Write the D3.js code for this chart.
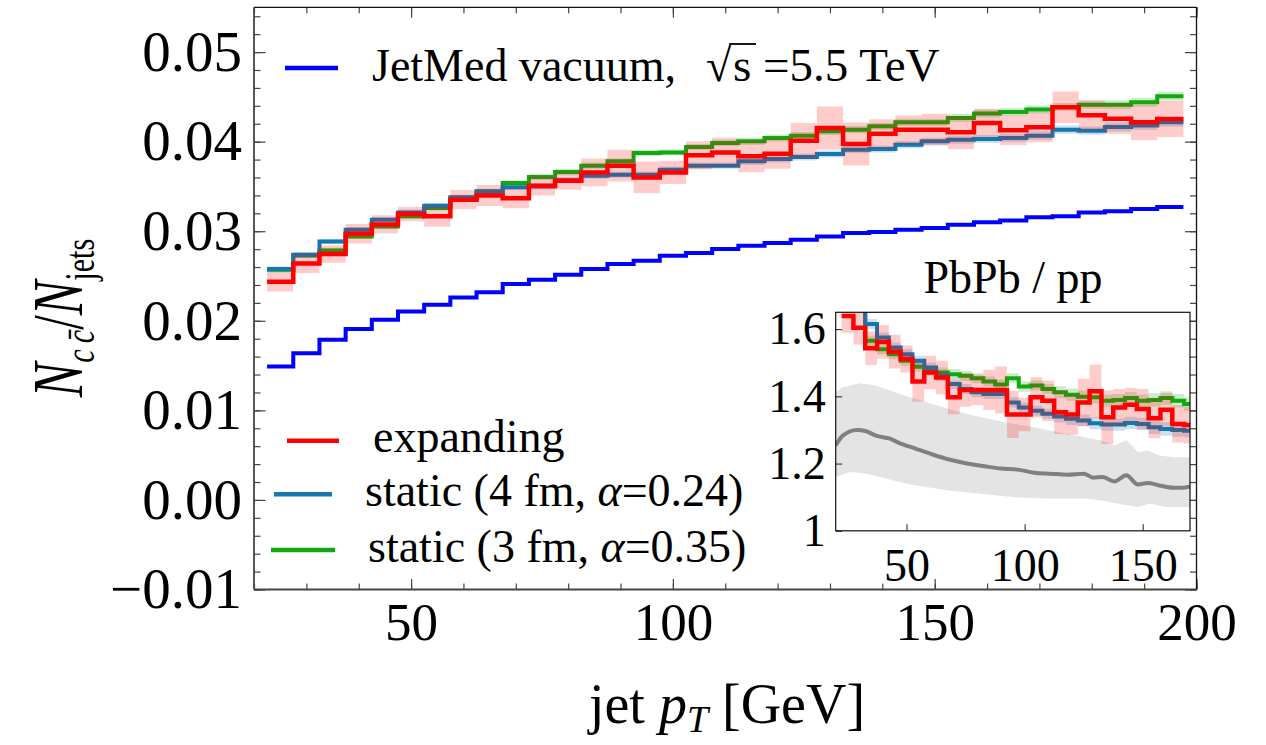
<!DOCTYPE html>
<html>
<head>
<meta charset="utf-8">
<script src="https://cdn.jsdelivr.net/npm/d3@7"></script>
<style>
  body { margin: 0; background: #fff; }
  svg { display: block; }
  text { font-family: 'Liberation Serif', 'Times New Roman', serif; fill: #000; }
</style>
</head>
<body>
<svg width="1266" height="745"></svg>
<script>
// bin centres (GeV), 5 GeV wide bins
var pT = [25, 30, 35, 40, 45, 50, 55, 60, 65, 70, 75, 80, 85, 90, 95, 100, 105, 110,
          115, 120, 125, 130, 135, 140, 145, 150, 155, 160, 165, 170, 175, 180, 185, 190, 195];
var binHalf = 2.5;

var vacuum = [0.0149, 0.01639, 0.01788, 0.01907, 0.02011, 0.02104, 0.02179, 0.0226, 0.0232, 0.0241,
              0.02458, 0.02514, 0.02577, 0.02633, 0.0267, 0.02726, 0.02756, 0.02801, 0.02838, 0.02868,
              0.02905, 0.02942, 0.0298, 0.02991, 0.03017, 0.03035, 0.03073, 0.03099, 0.0312, 0.03155,
              0.03166, 0.0321, 0.03222, 0.03248, 0.0327];

var expanding = [0.02436, 0.0264, 0.02745, 0.02972, 0.03076, 0.03192, 0.03166, 0.03352, 0.0340, 0.03367,
                 0.03508, 0.03564, 0.03657, 0.03732, 0.03601, 0.03657, 0.03847, 0.0388, 0.03836, 0.03866,
                 0.04011, 0.04153, 0.03974, 0.04089, 0.04134, 0.04134, 0.04104, 0.04209, 0.04127, 0.0416,
                 0.04384, 0.04294, 0.04257, 0.04216, 0.04253];
var expandingErr = [0.00108, 0.00106, 0.00097, 0.00108, 0.00102, 0.0008, 0.00117, 0.00108, 0.00117, 0.0011,
                    0.0011, 0.001, 0.00155, 0.00177, 0.00177, 0.0013, 0.00158, 0.00164, 0.00177, 0.00168,
                    0.00196, 0.0024, 0.0024, 0.0016, 0.00158, 0.00177, 0.00186, 0.00158, 0.00168, 0.00168,
                    0.00177, 0.00168, 0.00168, 0.002, 0.002];

var static4 = [0.02577, 0.02737, 0.02886, 0.03017, 0.03128, 0.0321, 0.03285, 0.03378, 0.03441, 0.0349,
               0.0350, 0.0357, 0.0362, 0.03631, 0.03631, 0.03687, 0.03732, 0.03732, 0.0378, 0.03806,
               0.03829, 0.03862, 0.0391, 0.03918, 0.03966, 0.04004, 0.04022, 0.0403, 0.0404, 0.04067,
               0.04134, 0.04123, 0.04164, 0.04179, 0.04216];
var static4Err = [0.0003, 0.0003, 0.0003, 0.0003, 0.0003, 0.0003, 0.0003, 0.0003, 0.0003, 0.0003,
                  0.00035, 0.00035, 0.00035, 0.00035, 0.00035, 0.00035, 0.00035, 0.00035, 0.0004, 0.0004,
                  0.0004, 0.0004, 0.0004, 0.0004, 0.0004, 0.0004, 0.00045, 0.00045, 0.00045, 0.00045,
                  0.00045, 0.00045, 0.0005, 0.0005, 0.0005];

var static3 = [0.0257, 0.0273, 0.02786, 0.02942, 0.03054, 0.03166, 0.0326, 0.0337, 0.03445, 0.03538,
               0.03605, 0.0366, 0.03732, 0.0378, 0.03873, 0.0388, 0.0394, 0.03985, 0.04004, 0.0404,
               0.04067, 0.04115, 0.04134, 0.04171, 0.04216, 0.04216, 0.04264, 0.04313, 0.04331, 0.04358,
               0.04387, 0.04413, 0.04413, 0.04439, 0.04506];
var static3Err = [0.0003, 0.0003, 0.0003, 0.0003, 0.0003, 0.0003, 0.0003, 0.0003, 0.0003, 0.0003,
                  0.00035, 0.00035, 0.00035, 0.00035, 0.00035, 0.00035, 0.00035, 0.00035, 0.0004, 0.0004,
                  0.0004, 0.0004, 0.0004, 0.0004, 0.0004, 0.0004, 0.00045, 0.00045, 0.00045, 0.00045,
                  0.00045, 0.00045, 0.0005, 0.0005, 0.0005];

// inset: PbPb / pp ratio, bins 25..170
var insetPt = [25, 30, 35, 40, 45, 50, 55, 60, 65, 70, 75, 80, 85, 90, 95, 100, 105, 110, 115, 120,
               125, 130, 135, 140, 145, 150, 155, 160, 165, 170];
var ratioExpanding = [1.639, 1.604, 1.543, 1.562, 1.533, 1.511, 1.444, 1.471, 1.456, 1.397,
                      1.419, 1.419, 1.419, 1.419, 1.346, 1.346, 1.397, 1.387, 1.353, 1.346,
                      1.382, 1.415, 1.338, 1.367, 1.375, 1.362, 1.335, 1.36, 1.318, 1.315];
var ratioExpandingErr = [0.05, 0.05, 0.05, 0.05, 0.05, 0.04, 0.06, 0.05, 0.05, 0.05,
                         0.05, 0.045, 0.06, 0.07, 0.07, 0.05, 0.06, 0.06, 0.065, 0.06,
                         0.07, 0.08, 0.08, 0.055, 0.05, 0.06, 0.06, 0.05, 0.055, 0.055];
var ratioStatic4 = [1.73, 1.67, 1.615, 1.575, 1.545, 1.525, 1.506, 1.486, 1.461, 1.437,
                    1.422, 1.412, 1.407, 1.407, 1.382, 1.367, 1.357, 1.348, 1.34, 1.333,
                    1.328, 1.32, 1.316, 1.316, 1.321, 1.318, 1.308, 1.303, 1.3, 1.298];
var ratioStatic3 = [1.725, 1.666, 1.565, 1.54, 1.525, 1.506, 1.488, 1.476, 1.471, 1.466,
                    1.461, 1.454, 1.444, 1.435, 1.454, 1.429, 1.432, 1.422, 1.412, 1.405,
                    1.399, 1.397, 1.387, 1.389, 1.395, 1.387, 1.389, 1.395, 1.387, 1.377];
var ratioStaticErr = [0.015, 0.015, 0.015, 0.015, 0.015, 0.015, 0.015, 0.015, 0.015, 0.015,
                      0.015, 0.015, 0.015, 0.015, 0.015, 0.015, 0.015, 0.015, 0.018, 0.018,
                      0.018, 0.018, 0.018, 0.018, 0.018, 0.018, 0.02, 0.02, 0.02, 0.02];

// grey reference curve and its band
var grayPt  = [20, 23, 29, 33, 37, 43, 47, 54, 61, 68, 75, 83, 90, 97, 104, 111, 118, 125, 129, 133,
               138, 143, 148, 152, 157, 163, 167, 170];
var grayMid = [1.254, 1.283, 1.300, 1.296, 1.283, 1.274, 1.261, 1.244, 1.227, 1.212, 1.201, 1.192, 1.185,
               1.182, 1.173, 1.170, 1.167, 1.170, 1.158, 1.160, 1.147, 1.165, 1.138, 1.142, 1.135, 1.128,
               1.128, 1.132];
var grayHiPt = [20, 23, 30, 37, 47, 54, 61, 68, 75, 83, 90, 97, 104, 111, 118, 125, 132, 138, 143, 148,
                152, 157, 163, 170];
var grayHi   = [1.412, 1.427, 1.439, 1.432, 1.407, 1.392, 1.377, 1.362, 1.348, 1.336, 1.325, 1.316, 1.308,
                1.298, 1.288, 1.279, 1.269, 1.254, 1.269, 1.234, 1.239, 1.224, 1.219, 1.219];
var grayLoPt = [20, 26, 33, 40, 47, 54, 68, 83, 97, 111, 125, 132, 139, 148, 153, 160, 170];
var grayLo   = [1.16, 1.175, 1.17, 1.158, 1.145, 1.135, 1.12, 1.109, 1.099, 1.096, 1.096, 1.091, 1.081,
                1.071, 1.081, 1.071, 1.071];

var xTicks = [50, 100, 150, 200];
var yTicks = [-0.01, 0, 0.01, 0.02, 0.03, 0.04, 0.05];
var insetXTicks = [50, 100, 150];
var insetYTicks = [1, 1.2, 1.4, 1.6];

var cRed = '#ff0000', cVac = '#0000ff', cBlue = '#1577b0', cGreen = '#12a812', cGray = '#808080';

var svg = d3.select('svg');

var x = d3.scaleLinear().domain([20, 200]).range([254, 1196.5]);
var y = d3.scaleLinear().domain([-0.01, 0.055]).range([589.5, 7.3]);

var xi = d3.scaleLinear().domain([20, 170]).range([835.7, 1190]);
var yi = d3.scaleLinear().domain([1, 1.65]).range([530.8, 312.3]);

function stepPts(centres, vals) {
    var pts = centres.map(function(p, i) { return [p - binHalf, vals[i]]; });
    var n = centres.length - 1;
    pts.push([centres[n] + binHalf, vals[n]]);
    return pts;
}

function bandPts(centres, vals, errs) {
    var pts = centres.map(function(p, i) { return [p - binHalf, vals[i] - errs[i], vals[i] + errs[i]]; });
    var n = centres.length - 1;
    pts.push([centres[n] + binHalf, vals[n] - errs[n], vals[n] + errs[n]]);
    return pts;
}

function drawSeries(g, sx, sy, centres, vals, errs, color, bandFill, width) {
    var area = d3.area().curve(d3.curveStepAfter)
        .x(function(d) { return sx(d[0]); })
        .y0(function(d) { return sy(d[1]); })
        .y1(function(d) { return sy(d[2]); });
    var line = d3.line().curve(d3.curveStepAfter)
        .x(function(d) { return sx(d[0]); })
        .y(function(d) { return sy(d[1]); });
    if (errs) {
        g.append('path').attr('d', area(bandPts(centres, vals, errs)))
            .attr('fill', bandFill).attr('stroke', 'none');
    }
    g.append('path').attr('d', line(stepPts(centres, vals)))
        .attr('fill', 'none').attr('stroke', color).attr('stroke-width', width);
}

// clip paths
var defs = svg.append('defs');
defs.append('clipPath').attr('id', 'clipMain').append('rect')
    .attr('x', x(20)).attr('y', y(0.055))
    .attr('width', x(200) - x(20)).attr('height', y(-0.01) - y(0.055));
defs.append('clipPath').attr('id', 'clipInset').append('rect')
    .attr('x', xi(20)).attr('y', yi(1.65))
    .attr('width', xi(170) - xi(20)).attr('height', yi(1) - yi(1.65));

// ---- main plot ----
var main = svg.append('g').attr('clip-path', 'url(#clipMain)');
drawSeries(main, x, y, pT, static3, static3Err, cGreen, 'rgba(18,168,18,0.22)', 4);
drawSeries(main, x, y, pT, static4, static4Err, cBlue, 'rgba(21,119,176,0.22)', 4);
drawSeries(main, x, y, pT, expanding, expandingErr, cRed, 'rgba(255,0,0,0.2)', 4.5);
drawSeries(main, x, y, pT, vacuum, null, cVac, null, 4);

// axes: ticks point inward on all four sides
function styleAxis(g) {
    g.select('.domain').remove();
    g.selectAll('.tick line').attr('stroke', '#444').attr('stroke-width', 1.2);
}
var yMinor = d3.range(-10, 56, 2).map(function(v) { return v / 1000; });
var xMinor = d3.range(20, 201, 10);

svg.append('g').attr('transform', 'translate(' + x(20) + ',0)')
    .call(d3.axisLeft(y).tickValues(yMinor).tickSizeInner(-6.5).tickSizeOuter(0).tickFormat(''))
    .call(styleAxis);
svg.append('g').attr('transform', 'translate(' + x(200) + ',0)')
    .call(d3.axisRight(y).tickValues(yMinor).tickSizeInner(-6.5).tickSizeOuter(0).tickFormat(''))
    .call(styleAxis);
svg.append('g').attr('transform', 'translate(0,' + y(-0.01) + ')')
    .call(d3.axisBottom(x).tickValues(xMinor).tickSizeInner(-6).tickSizeOuter(0).tickFormat(''))
    .call(styleAxis);
svg.append('g').attr('transform', 'translate(0,' + y(0.055) + ')')
    .call(d3.axisTop(x).tickValues(xMinor).tickSizeInner(-6).tickSizeOuter(0).tickFormat(''))
    .call(styleAxis);

var yAxis = svg.append('g').attr('transform', 'translate(' + x(20) + ',0)')
    .call(d3.axisLeft(y).tickValues(yTicks).tickSizeInner(-11.5).tickSizeOuter(0)
        .tickPadding(12).tickFormat(d3.format('.2f')))
    .call(styleAxis);
yAxis.selectAll('text').style('font-size', '57px').style('font-family', "'Liberation Serif', serif");

svg.append('g').attr('transform', 'translate(' + x(200) + ',0)')
    .call(d3.axisRight(y).tickValues(yTicks).tickSizeInner(-11.5).tickSizeOuter(0).tickFormat(''))
    .call(styleAxis);

var xAxis = svg.append('g').attr('transform', 'translate(0,' + y(-0.01) + ')')
    .call(d3.axisBottom(x).tickValues(xTicks).tickSizeInner(-10.5).tickSizeOuter(0)
        .tickPadding(13).tickFormat(d3.format('d')))
    .call(styleAxis);
xAxis.selectAll('text').style('font-size', '53px').style('font-family', "'Liberation Serif', serif");

svg.append('g').attr('transform', 'translate(0,' + y(0.055) + ')')
    .call(d3.axisTop(x).tickValues(xTicks).tickSizeInner(-10.5).tickSizeOuter(0).tickFormat(''))
    .call(styleAxis);

// frame
svg.append('line').attr('x1', x(20)).attr('x2', x(200)).attr('y1', y(0.055)).attr('y2', y(0.055))
    .attr('stroke', '#111').attr('stroke-width', 1.3);
svg.append('line').attr('x1', x(200)).attr('x2', x(200)).attr('y1', y(0.055)).attr('y2', y(-0.01))
    .attr('stroke', '#111').attr('stroke-width', 1.3);
svg.append('line').attr('x1', x(20)).attr('x2', x(20)).attr('y1', y(0.055)).attr('y2', y(-0.01))
    .attr('stroke', '#444').attr('stroke-width', 1.8);
svg.append('line').attr('x1', x(20)).attr('x2', x(200)).attr('y1', y(-0.01)).attr('y2', y(-0.01))
    .attr('stroke', '#444').attr('stroke-width', 1.8);

// axis titles
svg.append('text').attr('x', 727).attr('y', 723).attr('text-anchor', 'middle')
    .style('font-size', '56px')
    .call(function(t) {
        t.append('tspan').text('jet ');
        t.append('tspan').style('font-style', 'italic').text('p');
        t.append('tspan').style('font-style', 'italic').style('font-size', '38px').attr('dy', 9).text('T');
        t.append('tspan').attr('dy', -9).text(' [GeV]');
    });

svg.append('text').attr('transform', 'translate(82,318) rotate(-90) scale(0.72,1)')
    .attr('text-anchor', 'middle')
    .style('font-size', '72px')
    .call(function(t) {
        t.append('tspan').style('font-style', 'italic').text('N');
        t.append('tspan').style('font-style', 'italic').style('font-size', '42px').attr('dy', 12)
            .text('c\u2009c\u0304');
        t.append('tspan').attr('dy', -12).text('/');
        t.append('tspan').style('font-style', 'italic').text('N');
        t.append('tspan').style('font-size', '42px').attr('dy', 12).text('jets');
    });

// legends
var legend = [
    { color: cVac,   x1: 285, x2: 338, y: 68,    tx: 372, ty: 81,  label: 'JetMed vacuum,' },
    { color: cRed,   x1: 287, x2: 339, y: 440.7, tx: 373, ty: 452, label: 'expanding' },
    { color: cBlue,  x1: 274, x2: 332, y: 494.3, tx: 365, ty: 506, label: 'static (4 fm, \u03b1=0.24)' },
    { color: cGreen, x1: 271, x2: 335, y: 550,   tx: 368, ty: 562, label: 'static (3 fm, \u03b1=0.35)' }
];
legend.forEach(function(d) {
    svg.append('line').attr('x1', d.x1).attr('x2', d.x2).attr('y1', d.y).attr('y2', d.y)
        .attr('stroke', d.color).attr('stroke-width', 4.5);
    var t = svg.append('text').attr('x', d.tx).attr('y', d.ty).style('font-size', '46px');
    var parts = d.label.split('\u03b1');
    t.append('tspan').text(parts[0]);
    if (parts.length > 1) {
        t.append('tspan').style('font-style', 'italic').text('\u03b1');
        t.append('tspan').text(parts[1]);
    }
});
// sqrt(s) = 5.5 TeV
svg.append('text').attr('x', 706).attr('y', 81).style('font-size', '46px').text('\u221a');
svg.append('line').attr('x1', 729).attr('x2', 756).attr('y1', 44).attr('y2', 44)
    .attr('stroke', '#000').attr('stroke-width', 1.8);
svg.append('text').attr('x', 733).attr('y', 81).style('font-size', '47px').text('s =5.5 TeV');

// ---- inset ----
svg.append('rect').attr('x', xi(20)).attr('y', yi(1.65))
    .attr('width', xi(170) - xi(20)).attr('height', yi(1) - yi(1.65)).attr('fill', '#fff');

var inset = svg.append('g').attr('clip-path', 'url(#clipInset)');
var bandPoly = grayHiPt.map(function(p, i) { return [xi(p), yi(grayHi[i])]; })
    .concat(grayLoPt.map(function(p, i) { return [xi(p), yi(grayLo[i])]; }).reverse());
inset.append('path').attr('d', 'M' + bandPoly.join('L') + 'Z').attr('fill', '#e4e4e4');
inset.append('path')
    .attr('d', d3.line().curve(d3.curveMonotoneX)
        .x(function(d, i) { return xi(grayPt[i]); })
        .y(function(d) { return yi(d); })(grayMid))
    .attr('fill', 'none').attr('stroke', cGray).attr('stroke-width', 4);

drawSeries(inset, xi, yi, insetPt, ratioStatic3, ratioStaticErr, cGreen, 'rgba(18,168,18,0.22)', 4);
drawSeries(inset, xi, yi, insetPt, ratioStatic4, ratioStaticErr, cBlue, 'rgba(21,119,176,0.22)', 4);
drawSeries(inset, xi, yi, insetPt, ratioExpanding, ratioExpandingErr, cRed, 'rgba(255,0,0,0.2)', 4.5);

var iyAxis = svg.append('g').attr('transform', 'translate(' + xi(20) + ',0)')
    .call(d3.axisLeft(yi).tickValues(insetYTicks).tickSizeInner(-6.5).tickSizeOuter(0)
        .tickPadding(10).tickFormat(function(d) { return d === 1 ? '1' : d3.format('.1f')(d); }))
    .call(styleAxis);
iyAxis.selectAll('text').style('font-size', '46px').style('font-family', "'Liberation Serif', serif");

var ixAxis = svg.append('g').attr('transform', 'translate(0,' + yi(1) + ')')
    .call(d3.axisBottom(xi).tickValues(insetXTicks).tickSizeInner(-6.5).tickSizeOuter(0)
        .tickPadding(18).tickFormat(d3.format('d')))
    .call(styleAxis);
ixAxis.selectAll('text').style('font-size', '46px').style('font-family', "'Liberation Serif', serif");

svg.append('rect').attr('x', xi(20)).attr('y', yi(1.65))
    .attr('width', xi(170) - xi(20)).attr('height', yi(1) - yi(1.65))
    .attr('fill', 'none').attr('stroke', '#111').attr('stroke-width', 1.2);

svg.append('text').attr('x', 1013).attr('y', 293).attr('text-anchor', 'middle')
    .style('font-size', '46px').text('PbPb / pp');
</script>
</body>
</html>
